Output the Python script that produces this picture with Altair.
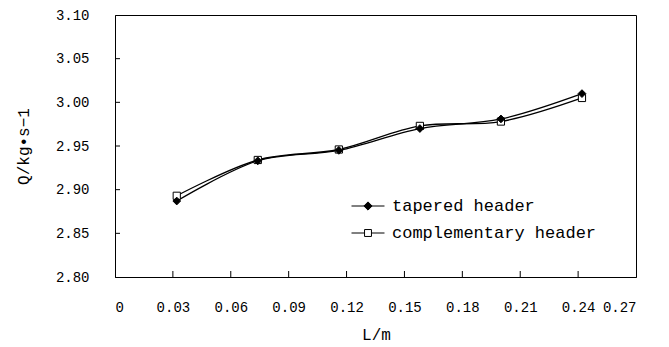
import altair as alt
import pandas as pd

# ---- data ----
L_values = [0.032, 0.074, 0.116, 0.158, 0.200, 0.242]
tapered = [2.887, 2.933, 2.945, 2.970, 2.981, 3.010]
complementary = [2.893, 2.934, 2.946, 2.973, 2.978, 3.005]
series_names = ["tapered header", "complementary header"]
x_ticks = [0, 0.03, 0.06, 0.09, 0.12, 0.15, 0.18, 0.21, 0.24, 0.27]
y_ticks = [2.80, 2.85, 2.90, 2.95, 3.00, 3.05, 3.10]

rows = []
for x, q in zip(L_values, complementary):
    rows.append({"L": x, "Q": q, "series": series_names[1]})
for x, q in zip(L_values, tapered):
    rows.append({"L": x, "Q": q, "series": series_names[0]})
df = pd.DataFrame(rows)

FONT = "Liberation Mono, Courier New, monospace"
W, H = 521, 262

xscale = alt.Scale(domain=[0, 0.27], nice=False, zero=False)
yscale = alt.Scale(domain=[2.80, 3.10], nice=False, zero=False)

x_axis = alt.Axis(values=x_ticks, grid=False, ticks=False, tickSize=0,
                  domainColor="black", domainWidth=1,
                  labelExpr="datum.value == 0 ? '0' : format(datum.value, '.2f')",
                  labelFont=FONT, labelFontSize=14, labelColor="black",
                  labelPadding=30, labelBaseline="middle",
                  title="L/m", titleFont=FONT, titleFontSize=16, titleFontWeight="normal",
                  titleColor="black", titleX=261, titleY=57, titleBaseline="middle",
                  titleAlign="center")
y_axis = alt.Axis(values=y_ticks, grid=False, ticks=False, tickSize=0,
                  domainColor="black", domainWidth=1, format=".2f",
                  labelFont=FONT, labelFontSize=14, labelColor="black",
                  labelPadding=26, labelBaseline="middle", labelAlign="right",
                  title="Q/kg•s−1", titleFont=FONT, titleFontSize=16, titleFontWeight="normal",
                  titleColor="black", titleX=-92, titleY=131, titleAngle=270,
                  titleBaseline="middle", titleAlign="center")

PATH_T = "M-2,0H2M0,-0.5L0.5,0L0,0.5L-0.5,0Z"
PATH_C = "M-2,0H-0.42M0.42,0H2M-0.42,-0.42H0.42V0.42H-0.42Z"

legend = alt.Legend(
    title=None, orient="none", legendX=244, legendY=182,
    symbolSize=272, labelFont=FONT, labelFontSize=17, labelColor="black",
    labelOffset=15, rowPadding=10, padding=0, labelLimit=500,
    symbolStrokeColor="black", symbolStrokeWidth=1, symbolOpacity=1,
)

X = alt.X("L:Q", scale=xscale, axis=x_axis)
Y = alt.Y("Q:Q", scale=yscale, axis=y_axis)

lines = alt.Chart(df).mark_line(color="black", strokeWidth=1.3,
                                interpolate="catmull-rom").encode(
    x=X, y=Y, detail="series:N",
)

pts_c = alt.Chart(df).transform_filter(
    alt.datum.series == series_names[1]
).mark_point(shape="square", fill="white", stroke="black", strokeWidth=1,
             opacity=1, filled=False, size=52).encode(x=X, y=Y)

pts_t = alt.Chart(df).transform_filter(
    alt.datum.series == series_names[0]
).mark_point(shape="diamond", fill="black", stroke="black", strokeWidth=1,
             opacity=1, filled=True, size=60).encode(x=X, y=Y)

# legend-only layer (draws nothing; entries come from the explicit scale domain)
legend_layer = alt.Chart(df).transform_filter("false").mark_point(
    strokeWidth=1, opacity=1).encode(
    x=X, y=Y,
    shape=alt.Shape("series:N", scale=alt.Scale(domain=series_names, range=[PATH_T, PATH_C]),
                    legend=legend),
    fill=alt.Fill("series:N", scale=alt.Scale(domain=series_names, range=["black", "white"]),
                  legend=legend),
    stroke=alt.Stroke("series:N", scale=alt.Scale(domain=series_names, range=["black", "black"]),
                      legend=legend),
)

xt = alt.Chart(pd.DataFrame({"t": x_ticks[1:-1]})).mark_rule(color="black", strokeWidth=1).encode(
    x=alt.X("t:Q", scale=xscale, axis=x_axis),
    y=alt.value(H),
    y2=alt.value(H - 6),
)
yt = alt.Chart(pd.DataFrame({"t": y_ticks[1:-1]})).mark_rule(color="black", strokeWidth=1).encode(
    y=alt.Y("t:Q", scale=yscale, axis=y_axis),
    x=alt.value(0),
    x2=alt.value(5),
)

chart = alt.layer(lines, xt, yt, pts_c, pts_t, legend_layer).properties(
    width=W, height=H,
    autosize=alt.AutoSizeParams(type="none"),
    padding={"left": 115, "top": 15, "right": 33, "bottom": 70},
    background="white",
).configure_view(stroke="black", strokeWidth=1)

chart.save("out.html", embed_options={"renderer": "svg", "actions": False})
